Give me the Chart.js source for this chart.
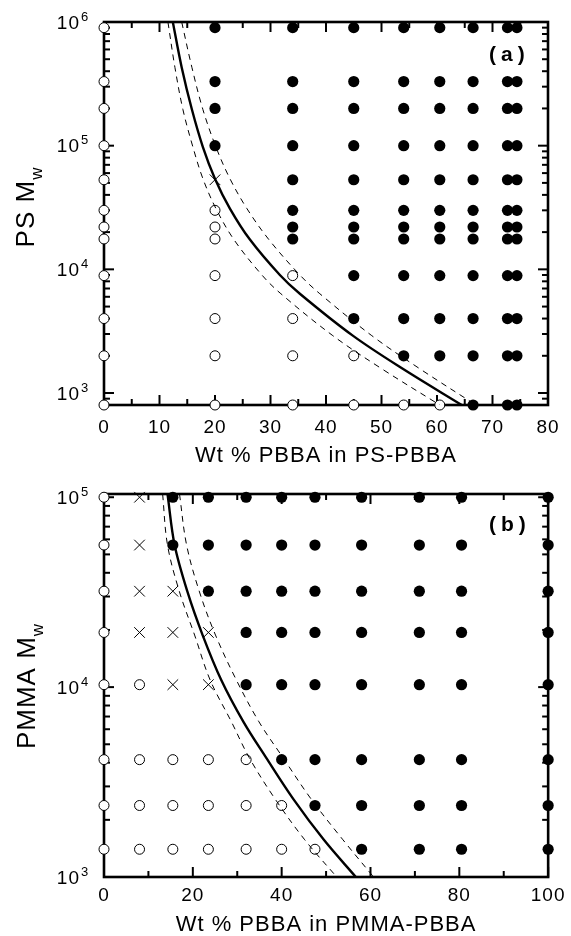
<!DOCTYPE html>
<html>
<head>
<meta charset="utf-8">
<script src="https://cdn.jsdelivr.net/npm/chart.js@4.4.1/dist/chart.umd.min.js"></script>
<style>
  html, body { margin: 0; padding: 0; background: #fff; overflow: hidden; }
  #wrap { position: relative; width: 571px; height: 936px; }
  .panel { position: absolute; left: 0; width: 571px; }
  #pa { top: 0; }
  #pb { top: 470px; }
</style>
</head>
<body>
<div id="wrap">
  <div class="panel" id="pa"><canvas id="ca" width="571" height="470"></canvas></div>
  <div class="panel" id="pb"><canvas id="cb" width="571" height="470"></canvas></div>
</div>
<script>
// ---------- (a) PS-PBBA blends ----------
const psWt = [0, 20, 34, 45, 54, 60.5, 66.5, 72.7, 74.4];
const psMw = [9.0e5, 3.3e5, 2.0e5, 1.0e5, 5.3e4, 3.0e4, 2.2e4, 1.76e4, 8.9e3, 4.0e3, 2.0e3, 800];
// one string per Mw row, one letter per composition column:
// o = open circle, f = filled circle, x = cross
const psPhase = [
  'offffffff',
  'offffffff',
  'offffffff',
  'offffffff',
  'oxfffffff',
  'oofffffff',
  'oofffffff',
  'oofffffff',
  'oooffffff',
  'oooffffff',
  'oooofffff',
  'oooooofff'
];
const psBoundaryMw = [1.0e6, 4.29e5, 1.96e5, 9.75e4, 5.41e4, 3.10e4, 1.74e4, 9.0e3, 6.35e3, 2.91e3, 1.57e3, 800];
const psBoundaryWt = [12.4, 14.0, 15.84, 17.82, 19.99, 22.69, 26.29, 31.69, 35.29, 44.83, 53.83, 64.46];
const psUpperWt    = [14.0, 15.84, 17.82, 20.17, 22.69, 25.75, 29.71, 35.29, 38.89, 48.25, 56.9, 67.0];
const psLowerWt    = [11.52, 12.78, 14.22, 16.02, 17.82, 20.17, 23.41, 28.45, 31.87, 41.23, 50.05, 60.5];

// ---------- (b) PMMA-PBBA blends ----------
const pmmaWt = [0, 8, 15.5, 23.5, 32, 40, 47.5, 58, 71, 80.5, 100];
const pmmaMw = [1.0e5, 5.6e4, 3.2e4, 1.94e4, 1.03e4, 4.15e3, 2.38e3, 1.4e3];
const pmmaPhase = [
  'oxfffffffff',
  'oxfffffffff',
  'oxxffffffff',
  'oxxxfffffff',
  'ooxxfffffff',
  'oooooffffff',
  'oooooofffff',
  'oooooooffff'
];
const pmmaBoundaryMw = [1.04e5, 5.6e4, 3.17e4, 1.88e4, 1.09e4, 6.56e3, 4.25e3, 2.58e3, 1.57e3, 1.0e3];
const pmmaBoundaryWt = [14.3, 15.9, 18.8, 22.2, 26.4, 31.4, 36.5, 42.6, 49.5, 56.7];
const pmmaUpperWt    = [17.0, 18.6, 21.5, 25.1, 29.8, 34.9, 40.3, 46.6, 53.8, 60.7];
const pmmaLowerWt    = [13.2, 14.3, 17.0, 20.4, 23.9, 28.7, 32.7, 38.5, 45.2, 52.4];

// ---------- helpers ----------
const FONT = '"Liberation Sans", Arial, Helvetica, sans-serif';

function phasePoints(wt, mw, phase, code) {
  const pts = [];
  phase.forEach((row, i) => {
    [...row].forEach((c, j) => { if (c === code) pts.push({ x: wt[j], y: mw[i] }); });
  });
  return pts;
}
function curve(wt, mw) { return wt.map((x, i) => ({ x, y: mw[i] })); }

// frame with inward ticks on all four sides, log-decade labels, rotated y title, panel tag
const framePlugin = {
  id: 'frame',
  beforeDraw(chart) { chart.ctx.letterSpacing = '1px'; },
  beforeDatasetsDraw(chart, args, o) {
    const { ctx, chartArea: a, scales: { x, y } } = chart;
    const seg = (x1, y1, x2, y2) => { ctx.beginPath(); ctx.moveTo(x1, y1); ctx.lineTo(x2, y2); ctx.stroke(); };
    ctx.save();
    ctx.strokeStyle = '#000';
    ctx.lineWidth = 2;
    const n = Math.round((x.max - x.min) / o.xMinorStep);
    for (let i = 0; i <= n; i++) {
      const v = x.min + i * o.xMinorStep;
      const px = x.getPixelForValue(v);
      const r = v / o.xMajorStep;
      const len = Math.abs(r - Math.round(r)) < 1e-6 ? 10 : 6;
      seg(px, a.bottom, px, a.bottom - len);
      seg(px, a.top, px, a.top + len);
    }
    const k0 = Math.floor(Math.log10(y.min)), k1 = Math.ceil(Math.log10(y.max));
    for (let k = k0; k <= k1; k++) {
      for (let m = 1; m <= 9; m++) {
        const v = m * Math.pow(10, k);
        if (v < y.min - 1e-6 || v > y.max + 1e-6) continue;
        const py = y.getPixelForValue(v);
        const len = m === 1 ? 10 : 6;
        seg(a.left, py, a.left + len, py);
        seg(a.right, py, a.right - len, py);
      }
    }
    ctx.lineWidth = 2.6;
    ctx.strokeRect(a.left, a.top, a.width, a.height);
    ctx.restore();
  },
  afterDraw(chart, args, o) {
    const { ctx, scales: { y } } = chart;
    ctx.save();
    ctx.fillStyle = '#000';
    ctx.letterSpacing = '1px';
    // decade labels 10^k
    const k0 = Math.ceil(Math.log10(y.min) - 1e-9), k1 = Math.floor(Math.log10(y.max) + 1e-9);
    for (let k = k0; k <= k1; k++) {
      const py = y.getPixelForValue(Math.pow(10, k));
      ctx.font = '19px ' + FONT;
      ctx.textAlign = 'right';
      ctx.textBaseline = 'middle';
      ctx.fillText('10', o.yLabelRight, py + 1.5);
      ctx.font = '13px ' + FONT;
      ctx.textAlign = 'left';
      ctx.textBaseline = 'alphabetic';
      ctx.fillText(String(k), o.yLabelRight + 1, py - 1.5);
    }
    // rotated y title with subscript
    ctx.translate(o.yTitleX, o.yTitleY);
    ctx.rotate(-Math.PI / 2);
    ctx.textAlign = 'left';
    ctx.textBaseline = 'alphabetic';
    ctx.font = '26px ' + FONT;
    const w1 = ctx.measureText(o.yTitle).width;
    ctx.font = '17px ' + FONT;
    const w2 = ctx.measureText(o.yTitleSub).width;
    const x0 = -(w1 + w2) / 2;
    ctx.font = '26px ' + FONT;
    ctx.fillText(o.yTitle, x0, 0);
    ctx.font = '17px ' + FONT;
    ctx.fillText(o.yTitleSub, x0 + w1, 8);
    ctx.restore();
    // panel tag
    ctx.save();
    ctx.fillStyle = '#000';
    ctx.letterSpacing = '5px';
    ctx.font = 'bold 21px ' + FONT;
    ctx.textAlign = 'left';
    ctx.textBaseline = 'middle';
    ctx.fillText(o.tag, o.tagX, o.tagY);
    ctx.restore();
  }
};

function makePanel(id, p) {
  const line = (wt, width, dash) => ({
    data: curve(wt, p.boundaryMw), showLine: true, borderColor: '#000', borderWidth: width,
    borderDash: dash, pointRadius: 0, tension: 0.35, order: 0
  });
  return new Chart(document.getElementById(id), {
    type: 'scatter',
    data: {
      datasets: [
        line(p.boundaryWt, 2.4, []),
        line(p.upperWt, 1, [6, 5]),
        line(p.lowerWt, 1, [6, 5]),
        { data: phasePoints(p.wt, p.mw, p.phase, 'f'), pointStyle: 'circle', pointRadius: 5.6,
          backgroundColor: '#000', borderColor: '#000', borderWidth: 0, clip: false, order: 1 },
        { data: phasePoints(p.wt, p.mw, p.phase, 'o'), pointStyle: 'circle', pointRadius: 5,
          backgroundColor: '#fff', borderColor: '#000', borderWidth: 1, clip: false, order: 1 },
        { data: phasePoints(p.wt, p.mw, p.phase, 'x'), pointStyle: 'crossRot', pointRadius: 7.5,
          backgroundColor: '#000', borderColor: '#000', borderWidth: 1, clip: false, order: 1 }
      ]
    },
    options: {
      responsive: false,
      animation: false,
      devicePixelRatio: 1,
      events: [],
      layout: { padding: { top: p.padTop, right: p.padRight, left: 0, bottom: 0 } },
      plugins: {
        legend: { display: false },
        tooltip: { enabled: false },
        frame: p.frame
      },
      scales: {
        x: {
          type: 'linear', min: 0, max: p.xMax,
          grid: { display: false, drawTicks: false },
          border: { display: false },
          ticks: { stepSize: p.xStep, color: '#000', padding: p.xTickPad, maxRotation: 0, autoSkip: false,
                   font: { family: FONT, size: 19 } },
          title: { display: true, text: p.xTitle, color: '#000', font: { family: FONT, size: 22 },
                   padding: { top: 0, bottom: p.xTitlePad } },
          afterFit: s => { s.height = p.xAxisHeight; }
        },
        y: {
          type: 'logarithmic', min: p.yMin, max: p.yMax,
          grid: { display: false, drawTicks: false },
          border: { display: false },
          ticks: { display: false },
          afterFit: s => { s.width = 104; }
        }
      }
    },
    plugins: [framePlugin]
  });
}

makePanel('ca', {
  wt: psWt, mw: psMw, phase: psPhase,
  boundaryWt: psBoundaryWt, boundaryMw: psBoundaryMw, upperWt: psUpperWt, lowerWt: psLowerWt,
  xMax: 80, xStep: 10, yMin: 800, yMax: 1e6,
  padTop: 22, padRight: 23, xAxisHeight: 65, xTickPad: 11, xTitlePad: 1,
  xTitle: 'Wt % PBBA in PS-PBBA',
  frame: { xMinorStep: 5, xMajorStep: 10, yLabelRight: 80, yTitle: 'PS M', yTitleSub: 'w',
           yTitleX: 34, yTitleY: 207, tag: '(a)', tagX: 489, tagY: 55 }
});

makePanel('cb', {
  wt: pmmaWt, mw: pmmaMw, phase: pmmaPhase,
  boundaryWt: pmmaBoundaryWt, boundaryMw: pmmaBoundaryMw, upperWt: pmmaUpperWt, lowerWt: pmmaLowerWt,
  xMax: 100, xStep: 20, yMin: 1000, yMax: 1.04e5,
  padTop: 24, padRight: 20, xAxisHeight: 63, xTickPad: 7, xTitlePad: 2,
  xTitle: 'Wt % PBBA in PMMA-PBBA',
  frame: { xMinorStep: 10, xMajorStep: 20, yLabelRight: 80, yTitle: 'PMMA M', yTitleSub: 'w',
           yTitleX: 35, yTitleY: 216, tag: '(b)', tagX: 489, tagY: 55 }
});
</script>
</body>
</html>
